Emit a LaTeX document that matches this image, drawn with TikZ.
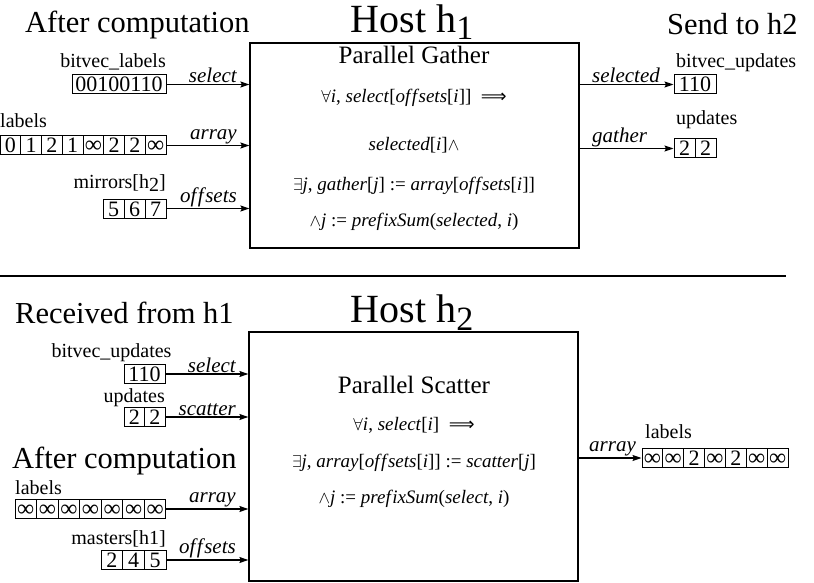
\documentclass[tikz,border=0pt]{standalone}
\usepackage{fontspec}
\setmainfont{Liberation Serif}
\newfontfamily\djv{DejaVu Sans}
\usetikzlibrary{arrows.meta,calc}
\newcommand\infsym{{\fontsize{24}{24}\selectfont ∞}}
\newcommand\ofs{of\kern1.5pt f\kern1.5pt sets}
\newcommand\implsym{{\djv\fontsize{18}{18}\selectfont ⟹}}
\newcommand\cellrow[5]{%
  \foreach \v [count=\k] in {#5}{%
    \node[cellbox, minimum width=#4pt] (#1-\k) at ({#2+(\k-0.5)*#4}, #3) {\v};
  }%
}
\tikzset{
  cellbox/.style={draw, line width=1pt, inner sep=0pt, minimum height=19pt, text height=15pt, text depth=0pt, font=\fontsize{22}{22}\selectfont},
  bigbox/.style={draw, line width=1.2pt, inner sep=0pt},
  conn/.style={line width=1.2pt, -{Stealth[length=9pt,width=6pt,inset=1.5pt]}},
  arrlab/.style={font=\fontsize{21}{21}\selectfont\itshape, inner sep=1pt},
  title/.style={font=\fontsize{30.5}{30.5}\selectfont, anchor=base west, inner sep=0pt},
  hosttitle/.style={font=\fontsize{40}{40}\selectfont, anchor=base, inner sep=0pt},
  namelab/.style={font=\fontsize{20}{20}\selectfont, inner sep=0pt},
  formula/.style={font=\fontsize{19}{19}\selectfont, anchor=base, inner sep=0pt},
  heading/.style={font=\fontsize{25}{25}\selectfont, anchor=base, inner sep=0pt},
}
\begin{document}
\begin{tikzpicture}[x=1pt,y=-1pt]
\useasboundingbox (0,0) rectangle (814,583);

% ---------- Host h1 ----------
\node[title] (ac1) at (25,33) {After computation};
\node[hosttitle] (h1) at (412,33) {Host h\raisebox{-7pt}{\fontsize{34}{34}\selectfont 1}};
\node[title] (st) at (667,35) {Send to h2};

\node[bigbox, minimum width=329pt, minimum height=205pt] (G) at (414.5,145.5) {};
\node[heading] (pg) at (414,64) {Parallel Gather};
\node[formula] (g1) at (414,103) {$\forall$\textit{i}, \textit{select}[\textit{\ofs}[\textit{i}]]\ \ \implsym};
\node[formula] (g2) at (414,150) {\textit{selected}[\textit{i}]$\wedge$};
\node[formula] (g3) at (414,190) {$\exists$\textit{j}, \textit{gather}[\textit{j}] := \textit{array}[\textit{\ofs}[\textit{i}]]};
\node[formula] (g4) at (414,226) {$\wedge$\textit{j} := \textit{pref\kern1.5pt ixSum}(\textit{selected}, \textit{i})};

\cellrow{bl}{72}{84.5}{94}{00100110}
\node[namelab, anchor=base east] (blt) at (166,68) {bitvec\_labels};
\cellrow{lab}{0}{145.5}{20.75}{0,1,2,1,\infsym,2,2,\infsym}
\node[namelab, anchor=base west] (labt) at (0,128) {labels};
\cellrow{mir}{103}{208.5}{21}{5,6,7}
\node[namelab, anchor=base east] (mirt) at (166,188) {mirrors[h\raisebox{-3pt}{2}]};

\draw[conn] (bl-1.east) -- node[arrlab, pos=1, anchor=south east, xshift=-11pt] {select} (bl-1.east -| G.west);
\draw[conn] (lab-8.east) -- node[arrlab, pos=1, anchor=south east, xshift=-11pt] {array} (lab-8.east -| G.west);
\draw[conn] (mir-3.east) -- node[arrlab, pos=1, anchor=south east, xshift=-11pt] {\ofs} (mir-3.east -| G.west);

\cellrow{sel}{674}{84.5}{42}{110}
\node[namelab, anchor=base west] (selt) at (676,68) {bitvec\_updates};
\cellrow{upd}{674}{148.5}{21}{2,2}
\node[namelab, anchor=base west] (updt) at (676,125) {updates};
\draw[conn] (G.east |- sel-1.west) -- node[arrlab, pos=0, anchor=south west, xshift=11pt] {selected} (sel-1.west);
\draw[conn] (G.east |- upd-1.west) -- node[arrlab, pos=0, anchor=south west, xshift=11pt] {gather} (upd-1.west);

% ---------- separator ----------
\draw[line width=2.5pt] (0,276) -- (786,276);

% ---------- Host h2 ----------
\node[title] (rf) at (15,323) {Received from h1};
\node[hosttitle] (h2) at (412,322) {Host h\raisebox{-8pt}{\fontsize{34}{34}\selectfont 2}};

\node[bigbox, minimum width=329pt, minimum height=249pt] (S) at (413.5,456.5) {};
\node[heading] (ps) at (414,393) {Parallel Scatter};
\node[formula] (s1) at (414,430) {$\forall$\textit{i}, \textit{select}[\textit{i}]\ \ \implsym};
\node[formula] (s2) at (414,467) {$\exists$\textit{j}, \textit{array}[\textit{\ofs}[\textit{i}]] := \textit{scatter}[\textit{j}]};
\node[formula] (s3) at (414,503) {$\wedge$\textit{j} := \textit{pref\kern1.5pt ixSum}(\textit{select}, \textit{i})};

\cellrow{sb}{124}{374}{41}{110}
\node[namelab, anchor=base] (sbt) at (111.5,357) {bitvec\_updates};
\cellrow{su}{124}{417}{20.5}{2,2}
\node[namelab, anchor=base east] (sut) at (165,402) {updates};
\node[title] (ac2) at (12,468) {After computation};
\cellrow{sl}{15}{509}{21.57}{\infsym,\infsym,\infsym,\infsym,\infsym,\infsym,\infsym}
\node[namelab, anchor=base west] (slt) at (15,494) {labels};
\cellrow{sm}{101}{560}{21.67}{2,4,5}
\node[namelab, anchor=base east] (smt) at (166,544) {masters[h1]};

\draw[conn] (sb-1.east) -- node[arrlab, pos=1, anchor=south east, xshift=-11pt] {select} (sb-1.east -| S.west);
\draw[conn] (su-2.east) -- node[arrlab, pos=1, anchor=south east, xshift=-11pt] {scatter} (su-2.east -| S.west);
\draw[conn] (sl-7.east) -- node[arrlab, pos=1, anchor=south east, xshift=-11pt] {array} (sl-7.east -| S.west);
\draw[conn] (sm-3.east) -- node[arrlab, pos=1, anchor=south east, xshift=-11pt] {\ofs} (sm-3.east -| S.west);

\cellrow{ol}{642}{458}{20.86}{\infsym,\infsym,2,\infsym,2,\infsym,\infsym}
\node[namelab, anchor=base west] (olt) at (645,438) {labels};
\draw[conn] (S.east |- ol-1.west) -- node[arrlab, pos=0, anchor=south west, xshift=9pt] {array} (ol-1.west);
\end{tikzpicture}
\end{document}
